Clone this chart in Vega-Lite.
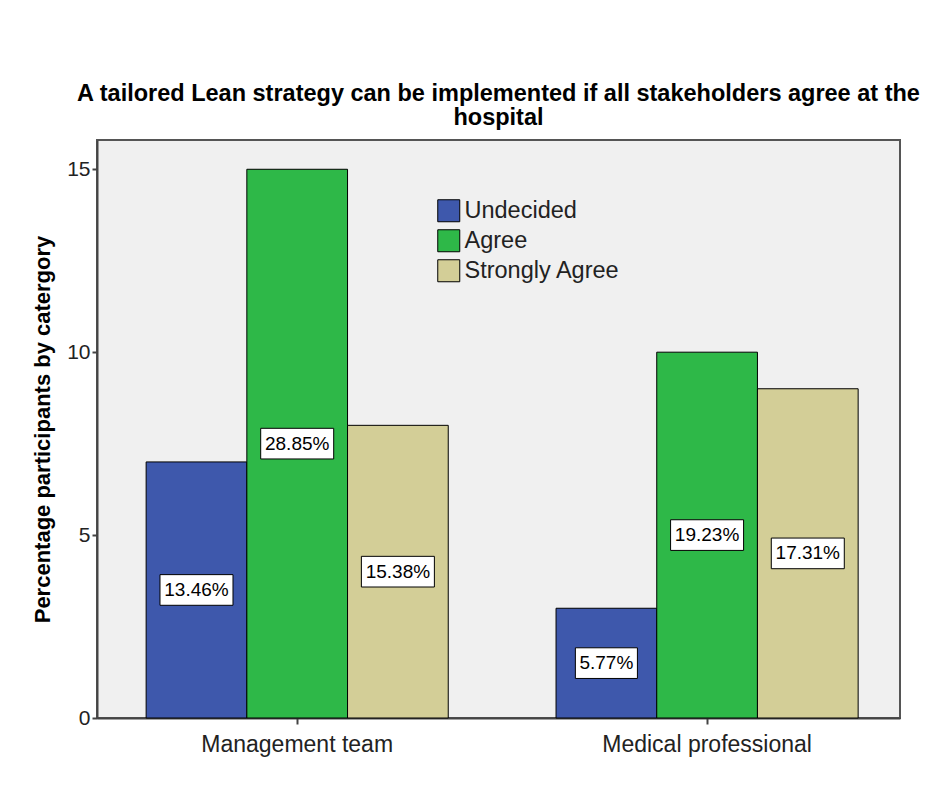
{
  "$schema": "https://vega.github.io/schema/vega-lite/v6.json",
  "autosize": {"type": "none"},
  "padding": {"left": 97, "top": 140, "right": 34, "bottom": 94},
  "width": 803,
  "height": 578,
  "background": "white",
  "config": {
    "font": "Liberation Sans",
    "view": {"fill": "#f0f0f0", "stroke": "#555555", "strokeWidth": 2}
  },
  "title": {
    "text": ["A tailored Lean strategy can be implemented if all stakeholders agree at the", "hospital"],
    "fontSize": 23.5,
    "fontWeight": "bold",
    "color": "black",
    "font": "Liberation Sans",
    "anchor": "middle",
    "lineHeight": 24,
    "offset": 11
  },
  "data": {
    "values": [
      {"group": "Management team", "response": "Undecided", "value": 7, "label": "13.46%"},
      {"group": "Management team", "response": "Agree", "value": 15, "label": "28.85%"},
      {"group": "Management team", "response": "Strongly Agree", "value": 8, "label": "15.38%"},
      {"group": "Medical professional", "response": "Undecided", "value": 3, "label": "5.77%"},
      {"group": "Medical professional", "response": "Agree", "value": 10, "label": "19.23%"},
      {"group": "Medical professional", "response": "Strongly Agree", "value": 9, "label": "17.31%"}
    ]
  },
  "transform": [{"calculate": "datum.value / 2", "as": "mid"}],
  "encoding": {
    "x": {
      "field": "group",
      "type": "nominal",
      "sort": ["Management team", "Medical professional"],
      "scale": {"paddingInner": 0.263, "paddingOuter": 0.111, "align": 0.54},
      "axis": {
        "title": null,
        "labelAngle": 0,
        "labelFontSize": 23,
        "labelLimit": 0,
        "labelColor": "#222222",
        "labelPadding": 9,
        "tickSize": 6,
        "tickColor": "#444444",
        "tickWidth": 2,
        "domainColor": "#444444",
        "domainWidth": 2
      }
    },
    "xOffset": {
      "field": "response",
      "type": "nominal",
      "sort": ["Undecided", "Agree", "Strongly Agree"],
      "scale": {"paddingInner": 0, "paddingOuter": 0}
    }
  },
  "layer": [
    {
      "mark": {"type": "bar", "stroke": "black", "strokeWidth": 1},
      "encoding": {
        "y": {
          "field": "value",
          "type": "quantitative",
          "scale": {"domain": [0, 15.8], "nice": false},
          "axis": {
            "title": "Percentage participants by catergory",
            "titleFontSize": 22,
            "titleFontWeight": "bold",
            "titleColor": "black",
            "titlePadding": 12,
            "values": [0, 5, 10, 15],
            "grid": false,
            "labelFontSize": 21,
            "labelColor": "#222222",
            "labelPadding": 2,
            "tickSize": 5,
            "tickColor": "#444444",
            "tickWidth": 2,
            "domainColor": "#444444",
            "domainWidth": 2
          }
        },
        "color": {
          "field": "response",
          "type": "nominal",
          "sort": ["Undecided", "Agree", "Strongly Agree"],
          "scale": {
            "domain": ["Undecided", "Agree", "Strongly Agree"],
            "range": ["#3e58ac", "#2eb848", "#d3ce97"]
          },
          "legend": {
            "title": null,
            "orient": "none",
            "legendX": 340,
            "legendY": 59,
            "symbolType": "square",
            "symbolSize": 484,
            "symbolStrokeColor": "black",
            "symbolStrokeWidth": 1,
            "labelFontSize": 23.5,
            "labelColor": "#222222",
            "labelOffset": 4,
            "rowPadding": 3,
            "padding": 0
          }
        }
      }
    },
    {
      "mark": {"type": "point", "filled": true, "fill": "white", "stroke": "black", "strokeWidth": 1, "opacity": 1, "size": 5329},
      "encoding": {
        "y": {"field": "mid", "type": "quantitative"},
        "shape": {
          "condition": {"test": "length(datum.label) < 6", "value": "M-0.85,-0.42H0.85V0.42H-0.85Z"},
          "value": "M-1,-0.42H1V0.42H-1Z"
        }
      }
    },
    {
      "mark": {"type": "text", "fontSize": 19, "color": "black", "baseline": "middle", "align": "center"},
      "encoding": {
        "y": {"field": "mid", "type": "quantitative"},
        "text": {"field": "label", "type": "nominal"}
      }
    }
  ]
}
